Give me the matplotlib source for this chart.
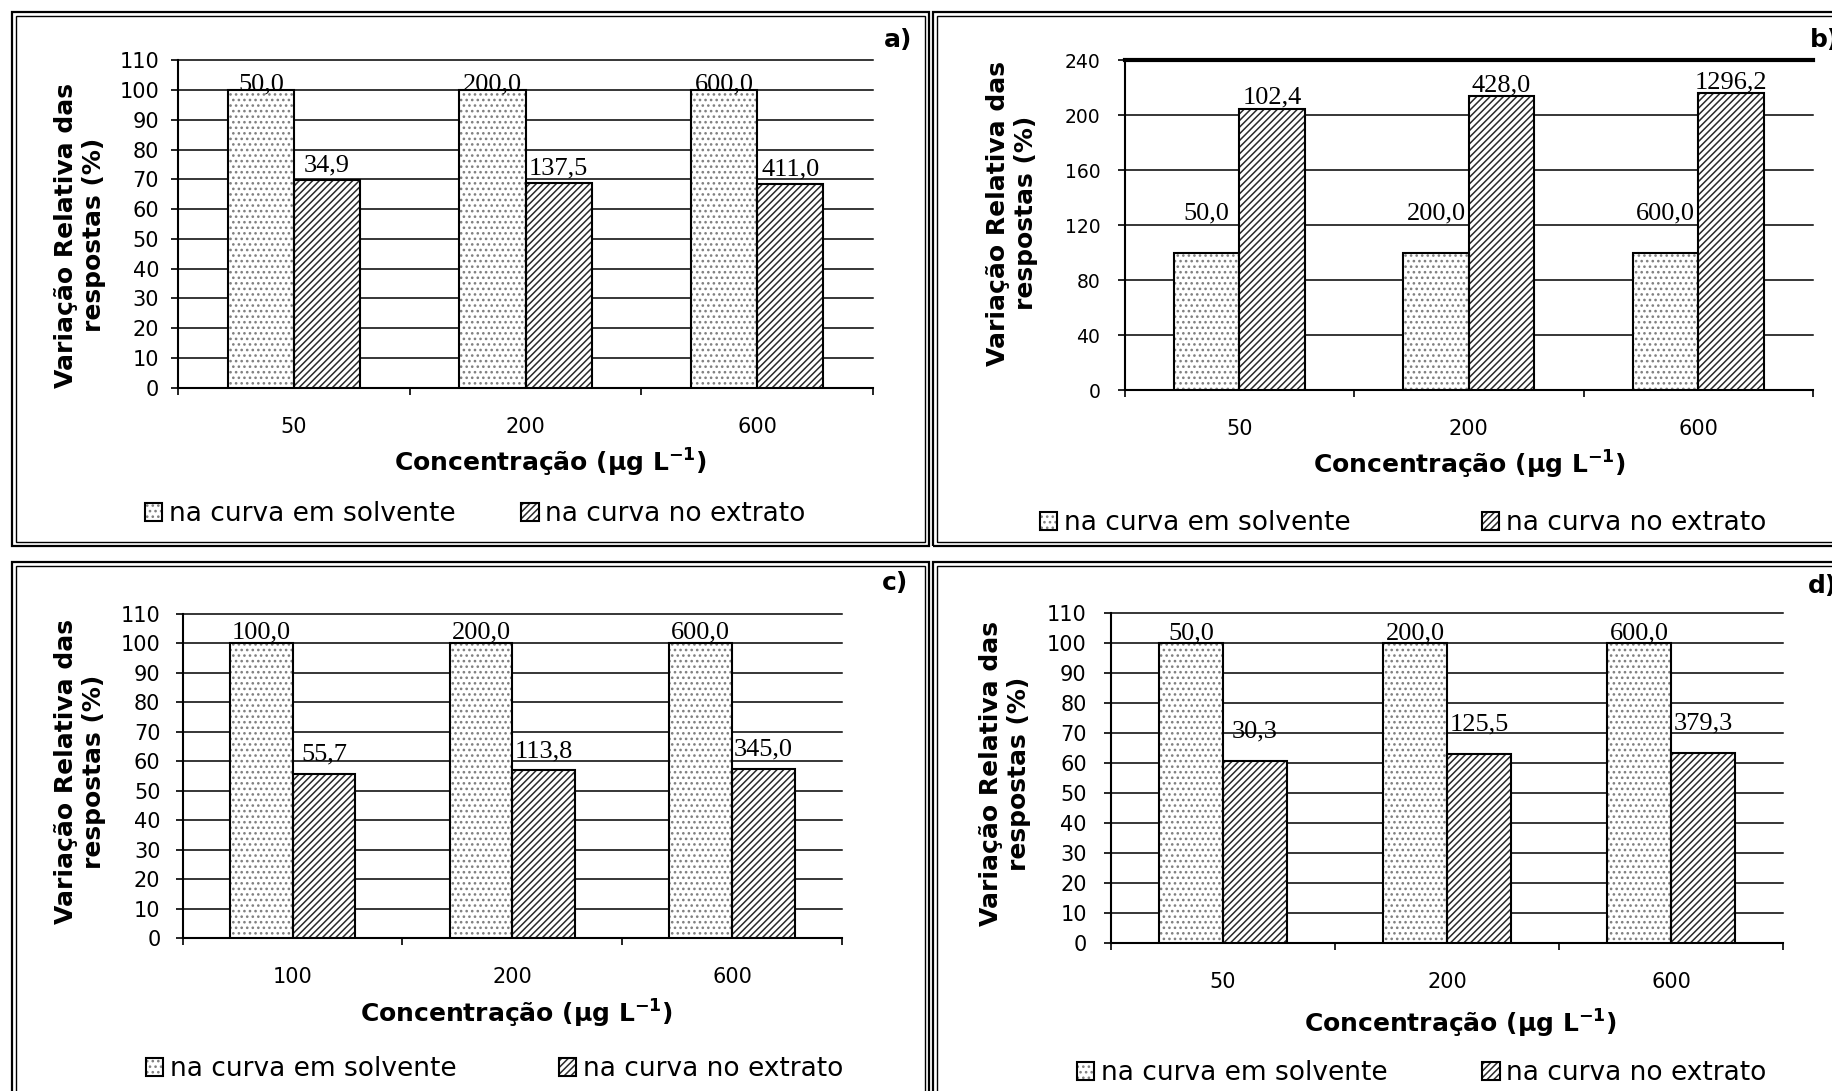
#!/usr/bin/env python3

import matplotlib

matplotlib.use("Agg")
import matplotlib.pyplot as plt
import numpy as np
from matplotlib.patches import Rectangle

# ---- data ----
series_names = ["na curva em solvente", "na curva no extrato"]

a_categories = ["50", "200", "600"]
a_solvent = [100.0, 100.0, 100.0]
a_extract = [69.8, 68.8, 68.5]
a_solvent_labels = ["50,0", "200,0", "600,0"]
a_extract_labels = ["34,9", "137,5", "411,0"]

b_categories = ["50", "200", "600"]
b_solvent = [100.0, 100.0, 100.0]
b_extract = [204.8, 214.0, 216.0]
b_solvent_labels = ["50,0", "200,0", "600,0"]
b_extract_labels = ["102,4", "428,0", "1296,2"]

c_categories = ["100", "200", "600"]
c_solvent = [100.0, 100.0, 100.0]
c_extract = [55.7, 56.9, 57.5]
c_solvent_labels = ["100,0", "200,0", "600,0"]
c_extract_labels = ["55,7", "113,8", "345,0"]

d_categories = ["50", "200", "600"]
d_solvent = [100.0, 100.0, 100.0]
d_extract = [60.6, 62.8, 63.2]
d_solvent_labels = ["50,0", "200,0", "600,0"]
d_extract_labels = ["30,3", "125,5", "379,3"]

W, H = 1832, 1091

plt.rcParams["font.family"] = ["DejaVu Sans"]
plt.rcParams["mathtext.default"] = "bf"
plt.rcParams["hatch.linewidth"] = 1.1


def fx(px):
    return px / W


def fy(py):
    return 1 - py / H


def pts(px):
    # pixels -> points at dpi 100
    return px * 0.72


def draw_frame(fig, x0, y0, x1, y1):
    # double line border like the original figure
    for inset, lw in [(0, 1.6), (3.8, 1.0)]:
        rect = Rectangle(
            (fx(x0 + inset), fy(y1 - inset)),
            (x1 - x0 - 2 * inset) / W,
            (y1 - y0 - 2 * inset) / H,
            transform=fig.transFigure,
            fill=False,
            edgecolor="black",
            linewidth=lw,
        )
        fig.add_artist(rect)


def hatched_bars(ax, x, heights, w, hatch, hatch_color):
    # pattern first (in its own colour), black outline on top
    fill = ax.bar(x, heights, w, facecolor="white", edgecolor=hatch_color,
                  linewidth=0, hatch=hatch, zorder=3)
    edge = ax.bar(x, heights, w, fill=False, edgecolor="black", linewidth=1.5, zorder=4)
    return fill, edge


def draw_panel(fig, p):
    left, top, right, bottom = p["box"]
    ax = fig.add_axes([fx(left), fy(bottom), (right - left) / W, (bottom - top) / H])

    x = np.arange(len(p["categories"])) + 0.5
    w = 0.285
    bars_s = hatched_bars(ax, x - w / 2, p["solvent"], w, "...", "#808080")
    bars_e = hatched_bars(ax, x + w / 2, p["extract"], w, "/////", "#2a2a2a")

    ax.set_xlim(0, len(p["categories"]))
    ax.set_ylim(0, p["ymax"])
    ax.set_yticks(np.arange(0, p["ymax"] + 1, p["ystep"]))
    ax.yaxis.grid(True, color="black", linewidth=1.1)
    for line in ax.get_ygridlines():
        line.set_clip_on(False)
    ax.set_axisbelow(True)

    ax.set_xticks(np.arange(len(p["categories"]) + 1))
    ax.set_xticklabels([])
    ax.set_xticks(x, minor=True)
    ax.set_xticklabels(p["categories"], minor=True, fontsize=15)
    ax.tick_params(axis="x", which="major", direction="out", length=5, width=1.2)
    ax.tick_params(axis="x", which="minor", length=0, pad=21)
    ax.tick_params(axis="y", direction="out", length=5, width=1.2,
                   labelsize=p["ytick_size"], pad=p["ytick_pad"])

    for side in ["top", "right"]:
        ax.spines[side].set_visible(False)
    for side in ["left", "bottom"]:
        ax.spines[side].set_linewidth(1.5)
    if p.get("thick_top"):
        ax.spines["top"].set_visible(True)
        ax.spines["top"].set_linewidth(3)

    # value labels (Times-like)
    gap_s, gap_e = p["label_gaps"]
    for xi, h, t in zip(x - w / 2, p["solvent"], p["solvent_labels"]):
        ax.annotate(t, (xi, h), xytext=(0, pts(gap_s)), textcoords="offset points",
                    ha="center", va="baseline", family="Liberation Serif", fontsize=19,
                    zorder=5)
    for xi, h, t in zip(x + w / 2, p["extract"], p["extract_labels"]):
        ax.annotate(t, (xi, h), xytext=(0, pts(gap_e)), textcoords="offset points",
                    ha="center", va="baseline", family="Liberation Serif", fontsize=19,
                    zorder=5)

    # axis titles
    yl_x, yl_y = p["ylabel_pos"]
    fig.text(fx(yl_x), fy(yl_y), "Variação Relativa das\nrespostas (%)", rotation=90,
             ha="center", va="center", multialignment="center", fontsize=18,
             fontweight="bold", linespacing=1.25)
    xl_x, xl_y = p["xlabel_pos"]
    fig.text(fx(xl_x), fy(xl_y), "Concentração (μg L$^{-1}$)", ha="center", va="center",
             fontsize=18, fontweight="bold")

    # legend below the plot
    lg_x, lg_y, colspace = p["legend"]
    ax.legend([bars_s, bars_e], series_names, loc="center left",
              bbox_to_anchor=(fx(lg_x), fy(lg_y)), bbox_transform=fig.transFigure,
              ncol=2, frameon=False, fontsize=19, handlelength=0.65, handleheight=0.65,
              handletextpad=0.25, columnspacing=colspace, borderpad=0, borderaxespad=0)

    tag_x, tag_y, tag = p["tag"]
    fig.text(fx(tag_x), fy(tag_y), tag, ha="left", va="center", fontsize=18,
             fontweight="bold")
    return ax


def draw():
    fig = plt.figure(figsize=(W / 100, H / 100), dpi=100)

    panels = [
        dict(box=(178, 60.3, 873, 387.7), categories=a_categories, solvent=a_solvent,
             extract=a_extract, solvent_labels=a_solvent_labels,
             extract_labels=a_extract_labels, ymax=110, ystep=10, ytick_size=15,
             ytick_pad=8.5, label_gaps=(0, 8), ylabel_pos=(80, 235),
             xlabel_pos=(550, 463), legend=(145, 514, 2.5), tag=(884, 40, "a)")),
        dict(box=(1124.5, 60.3, 1813, 390), categories=b_categories, solvent=b_solvent,
             extract=b_extract, solvent_labels=b_solvent_labels,
             extract_labels=b_extract_labels, ymax=240, ystep=40, ytick_size=13.5,
             ytick_pad=12.5, label_gaps=(33, 5), ylabel_pos=(1012, 213),
             xlabel_pos=(1469, 465), legend=(1040, 523, 5.0), tag=(1810, 40, "b)"),
             thick_top=True),
        dict(box=(182.7, 613.8, 842, 938), categories=c_categories, solvent=c_solvent,
             extract=c_extract, solvent_labels=c_solvent_labels,
             extract_labels=c_extract_labels, ymax=110, ystep=10, ytick_size=15,
             ytick_pad=11, label_gaps=(5, 13), ylabel_pos=(80, 772),
             xlabel_pos=(516, 1014), legend=(146, 1069, 3.9), tag=(882, 583, "c)")),
        dict(box=(1111, 613, 1783, 942.7), categories=d_categories, solvent=d_solvent,
             extract=d_extract, solvent_labels=d_solvent_labels,
             extract_labels=d_extract_labels, ymax=110, ystep=10, ytick_size=15,
             ytick_pad=12.5, label_gaps=(4, 24), ylabel_pos=(1005, 774),
             xlabel_pos=(1460, 1024), legend=(1077, 1073, 3.6), tag=(1808, 586, "d)")),
    ]
    for p in panels:
        draw_panel(fig, p)

    draw_frame(fig, 12, 12, 929, 546)
    draw_frame(fig, 933, 12, 1850, 546)
    draw_frame(fig, 12, 562, 929, 1110)
    draw_frame(fig, 933, 562, 1850, 1110)

    fig.savefig("out.png", dpi=100)
    return


if __name__ == "__main__":
    draw()
